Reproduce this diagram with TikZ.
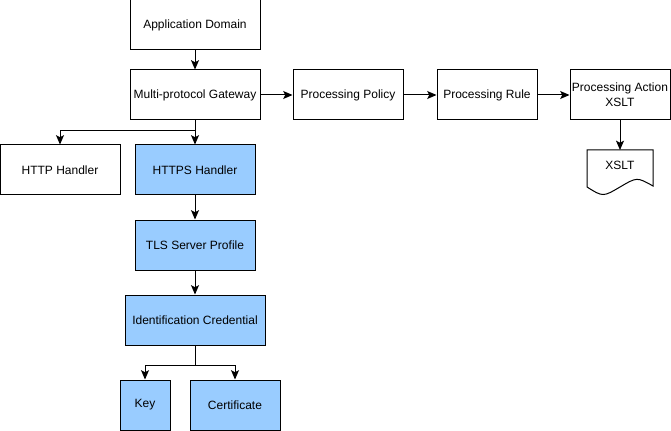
\documentclass[tikz,border=0pt]{standalone}
\usepackage{fontspec}
\setmainfont{Liberation Sans}
\usepackage{tikz}
\usetikzlibrary{arrows.meta,positioning,calc}
\definecolor{tlsblue}{HTML}{99CCFF}

\begin{document}
\begin{tikzpicture}[>={Stealth[length=7pt,width=6pt,inset=1.5pt]}, x=0.75pt, y=-0.75pt, line width=0.75pt,
    font=\fontsize{9pt}{11pt}\selectfont,
    obj/.style={draw, rectangle, minimum height=37.5pt, inner sep=1pt, align=center},
    sec/.style={obj, fill=tlsblue}]
    \useasboundingbox (0,0) rectangle (671,431);
    % top chain
    \node[obj, minimum width=97.5pt] (appdom) at (195,25) {Application Domain};
    \node[obj, minimum width=97.5pt] (mpgw) at (195,95) {Multi-protocol Gateway};
    \node[obj, minimum width=82.5pt] (policy) at (348,95) {Processing Policy};
    \node[obj, minimum width=75pt] (rule) at (487,95) {Processing Rule};
    \node[obj, minimum width=75pt] (action) at (620,95) {Processing Action\\XSLT};
    % handlers
    \node[obj, minimum width=90pt] (http) at (60,170) {HTTP Handler};
    \node[sec, minimum width=90pt] (https) at (195,170) {HTTPS Handler};
    \node[sec, minimum width=90pt] (tls) at (195,245) {TLS Server Profile};
    \node[sec, minimum width=105pt] (idcred) at (195,320) {Identification Credential};
    \node[sec, minimum width=37.5pt] (key) at (145,405) {Key};
    \node[sec, minimum width=67.5pt] (cert) at (235,405) {Certificate};
    % xslt document
    \draw (587,150) -- (653,150) -- (653,186)
        .. controls (637,177) .. (620,187)
        .. controls (603,197) .. (587,187) -- cycle;
    \coordinate (doctop) at (620,150);
    \node (xslt) at (620,165) {XSLT};

    \draw[->] (appdom) -- (mpgw);
    \draw[->] (mpgw) -- (policy);
    \draw[->] (policy) -- (rule);
    \draw[->] (rule) -- (action);
    \draw[->] (action) -- (doctop);
    \draw[->] (mpgw) -- (https);
    \draw[->] (mpgw.south) -- ++(0,10) -| (http.north);
    \draw[->] (https) -- (tls);
    \draw[->] (tls) -- (idcred);
    \draw[->] (idcred.south) -- ++(0,20) -| (key.north);
    \draw[->] (idcred.south) -- ++(0,20) -| (cert.north);
\end{tikzpicture}
\end{document}
